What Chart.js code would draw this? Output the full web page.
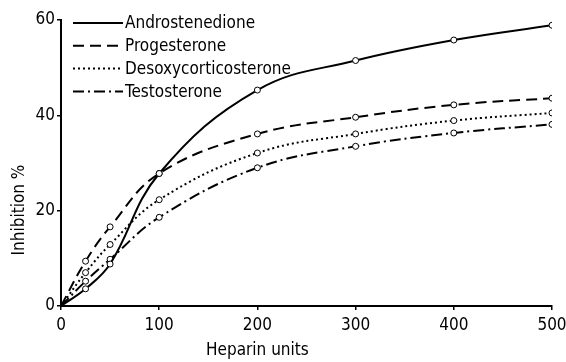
<!DOCTYPE html>
<html>
<head>
<meta charset="utf-8">
<script src="https://cdn.jsdelivr.net/npm/chart.js@4"></script>
<style>
  html, body { margin: 0; padding: 0; background: #fff; }
  #wrap { width: 566px; height: 362px; }
</style>
</head>
<body>
<div id="wrap"><canvas id="heparinChart" width="566" height="362"></canvas></div>
<script>
var heparinUnits = [0, 25, 50, 100, 200, 300, 400, 500];
var androstenedione = [0, 3.6, 8.8, 27.8, 45.3, 51.5, 55.8, 58.9];
var progesterone = [0, 9.4, 16.6, 27.8, 36.1, 39.6, 42.2, 43.6];
var desoxycorticosterone = [0, 7.0, 12.9, 22.3, 32.1, 36.1, 38.9, 40.5];
var testosterone = [0, 5.2, 9.8, 18.6, 29.0, 33.5, 36.3, 38.1];
var xTicks = [0, 100, 200, 300, 400, 500];
var yTicks = [0, 20, 40, 60];

var FONT = "'Liberation Sans Narrow', 'DejaVu Sans Condensed', 'Roboto Condensed', sans-serif";

function pairs(vals) {
    return heparinUnits.map(function (x, i) { return { x: x, y: vals[i] }; });
}

function makeSet(label, vals, dash) {
    return {
        label: label,
        data: pairs(vals),
        borderColor: '#000',
        borderWidth: 2,
        borderDash: dash,
        backgroundColor: '#fff',
        pointBackgroundColor: '#fff',
        pointBorderColor: '#000',
        pointBorderWidth: 1,
        pointRadius: heparinUnits.map(function (x) { return x === 0 ? 0 : 3; }),
        tension: 0.4,
        fill: false
    };
}

// legend inside the plot + axis titles
var extras = {
    id: 'extras',
    afterDraw: function (chart) {
        var ctx = chart.ctx;
        var area = chart.chartArea;
        ctx.save();
        ctx.fillStyle = '#000';
        ctx.strokeStyle = '#000';
        ctx.font = '17px ' + FONT;
        ctx.textBaseline = 'middle';
        chart.data.datasets.forEach(function (ds, i) {
            var y = area.top + 3 + i * 22.8;
            ctx.lineWidth = 2;
            ctx.setLineDash(ds.borderDash || []);
            ctx.beginPath();
            ctx.moveTo(area.left + 12, y);
            ctx.lineTo(area.left + 62, y);
            ctx.stroke();
            ctx.setLineDash([]);
            ctx.textAlign = 'left';
            ctx.fillText(ds.label, area.left + 64, y + 1);
        });

        ctx.textAlign = 'center';
        var xs = chart.scales.x;
        ctx.fillText('Heparin units', xs.getPixelForValue(200), 351);

        ctx.translate(20, 210);
        ctx.rotate(-Math.PI / 2);
        ctx.fillText('Inhibition %', 0, 0);
        ctx.restore();
    }
};

var chart = new Chart(document.getElementById('heparinChart').getContext('2d'), {
    type: 'line',
    data: {
        datasets: [
            makeSet('Androstenedione', androstenedione, []),
            makeSet('Progesterone', progesterone, [11, 6]),
            makeSet('Desoxycorticosterone', desoxycorticosterone, [2, 3]),
            makeSet('Testosterone', testosterone, [11, 4, 2, 4])
        ]
    },
    options: {
        responsive: false,
        animation: false,
        layout: { padding: { top: 20, right: 0, left: 0, bottom: 0 } },
        plugins: {
            legend: { display: false },
            tooltip: { enabled: false }
        },
        scales: {
            x: {
                type: 'linear',
                min: 0,
                max: 500,
                afterBuildTicks: function (scale) {
                    scale.ticks = xTicks.map(function (v) { return { value: v }; });
                },
                afterFit: function (scale) {
                    scale.height = 56;
                    scale.paddingRight = 14;
                },
                border: { display: true, color: '#000', width: 2 },
                grid: { drawOnChartArea: false, drawTicks: true, tickLength: 4, color: '#000', lineWidth: 1.5 },
                ticks: { color: '#000', font: { family: FONT, size: 17 }, padding: 5, maxRotation: 0 }
            },
            y: {
                type: 'linear',
                min: 0,
                max: 60,
                afterBuildTicks: function (scale) {
                    scale.ticks = yTicks.map(function (v) { return { value: v }; });
                },
                afterFit: function (scale) { scale.width = 61; },
                border: { display: true, color: '#000', width: 2 },
                grid: { drawOnChartArea: false, drawTicks: true, tickLength: 4, color: '#000', lineWidth: 1.5 },
                ticks: { color: '#000', font: { family: FONT, size: 17 }, padding: 2 }
            }
        }
    },
    plugins: [extras]
});
</script>
</body>
</html>
